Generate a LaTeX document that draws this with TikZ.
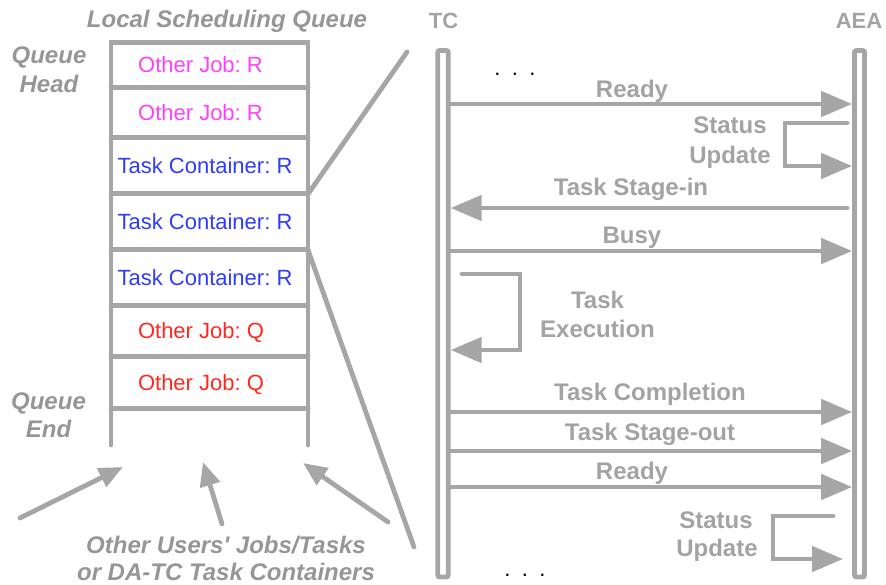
\documentclass[tikz,border=0pt]{standalone}
\usepackage{fontspec}
\setmainfont{Liberation Sans}
\usetikzlibrary{arrows.meta}
\definecolor{lg}{RGB}{166,166,166}
\definecolor{lt}{RGB}{163,163,163}
\definecolor{lq}{RGB}{150,150,150}
\definecolor{mag}{RGB}{255,64,255}
\definecolor{blu}{RGB}{45,60,255}
\definecolor{rd}{RGB}{255,40,30}
\frenchspacing
\begin{document}
\begin{tikzpicture}[x=1pt,y=-1pt,
 wall/.style={draw=lg, line width=4.8pt, line cap=round},
 msg/.style={draw=lg, line width=4.8pt, line cap=round, -{Triangle[length=31pt,width=25pt]}},
 small/.style={draw=lg, line width=4.8pt, line cap=round, -{Triangle[length=24pt,width=20pt]}},
 msgl/.style={font=\fontsize{24}{28}\selectfont\bfseries, text=lt, anchor=base, inner sep=0pt},
 side/.style={font=\fontsize{24}{28}\selectfont\bfseries\itshape, text=lq, anchor=base, inner sep=0pt},
 cell/.style={font=\fontsize{22}{26}\selectfont, text height=15.8pt, text depth=0pt, inner sep=0pt},
 life/.style={draw=lg, line width=4.8pt, rounded corners=2pt, minimum width=10.5pt, inner sep=0pt},
 dots/.style={font=\fontsize{22}{26}\selectfont, text=black, anchor=base, inner sep=0pt},
]
\useasboundingbox (0,0) rectangle (886,584);

% ---------- queue ----------
\draw[wall] (111,445) -- (111,42.5) -- (308,42.5) -- (308,445);
\foreach \yy in {87.5,137.5,193.5,249.5,305.5,356.5,408.5}
  \draw[wall] (111,\yy) -- (308,\yy);

\node[cell, text=mag] (c1) at (200.5,65) {Other Job: R};
\node[cell, text=mag] (c2) at (200.5,112.5) {Other Job: R};
\node[cell, text=blu] (c3) at (205,165.5) {Task Container: R};
\node[cell, text=blu] (c4) at (205,221.5) {Task Container: R};
\node[cell, text=blu] (c5) at (205,277.5) {Task Container: R};
\node[cell, text=rd] (c6) at (201,331) {Other Job: Q};
\node[cell, text=rd] (c7) at (201,382.5) {Other Job: Q};

\node[side] (lsq) at (227,27) {Local Scheduling Queue};
\node[side] (qh1) at (49,63) {Queue};
\node[side] (qh2) at (49,92) {Head};
\node[side] (qe1) at (48.5,409) {Queue};
\node[side] (qe2) at (48.5,437) {End};
\node[side] (ou1) at (226,553) {Other Users\textquotesingle{} Jobs/Tasks};
\node[side] (ou2) at (226,580) {or DA-TC Task Containers};

% zoom lines
\coordinate (zA) at (308,194);
\coordinate (zB) at (407,52);
\coordinate (zC) at (308,250);
\coordinate (zD) at (414,547);
\draw[wall] (zA) -- (zB);
\draw[wall] (zC) -- (zD);

% incoming arrows
\coordinate (a1s) at (20,518);  \coordinate (a1e) at (123,467);
\coordinate (a2s) at (222,524); \coordinate (a2e) at (203,462);
\coordinate (a3s) at (388,522); \coordinate (a3e) at (303,463);
\draw[small] (a1s) -- (a1e);
\draw[small] (a2s) -- (a2e);
\draw[small] (a3s) -- (a3e);

% ---------- sequence part ----------
\node[life, minimum height=526.5pt] (tc) at (443,313.75) {};
\node[life, minimum width=10pt, minimum height=526.5pt] (aea) at (859.5,313.75) {};
\node[msgl, font=\fontsize{22}{26}\selectfont\bfseries] (tcl) at (443.5,28) {TC};
\node[msgl, font=\fontsize{22}{26}\selectfont\bfseries] (aeal) at (859,28) {AEA};

\node[dots] (d1) at (515,75.5) {.\hspace{11.4pt}.\hspace{11.4pt}.};
\node[dots] (d2) at (525,576.5) {.\hspace{11.4pt}.\hspace{11.4pt}.};

% Ready
\draw[msg] (tc.east |- 0,104) -- (aea.west |- 0,104);
\node[msgl] (l1) at (632,97) {Ready};
% Status update loop 1
\coordinate (s1) at (847,123);
\draw[msg] (s1) -- (785,123) -- (785,166) -- (aea.west |- 0,166);
\node[msgl] (l2a) at (730,133) {Status};
\node[msgl] (l2b) at (730,163) {Update};
% Task Stage-in
\coordinate (si) at (847,208);
\draw[msg] (si) -- (tc.east |- 0,208);
\node[msgl] (l3) at (631,195) {Task Stage-in};
% Busy
\draw[msg] (tc.east |- 0,251) -- (aea.west |- 0,251);
\node[msgl] (l4) at (632,243) {Busy};
% Task execution loop
\coordinate (te) at (462,274);
\draw[msg] (te) -- (520,274) -- (520,350) -- (tc.east |- 0,350);
\node[msgl] (l5a) at (597.5,308) {Task};
\node[msgl] (l5b) at (597.5,337) {Execution};
% Task Completion
\draw[msg] (tc.east |- 0,412) -- (aea.west |- 0,412);
\node[msgl] (l6) at (650,400) {Task Completion};
% Task Stage-out
\draw[msg] (tc.east |- 0,451) -- (aea.west |- 0,451);
\node[msgl] (l7) at (650,440) {Task Stage-out};
% Ready 2
\draw[msg] (tc.east |- 0,487) -- (aea.west |- 0,487);
\node[msgl] (l8) at (632,479) {Ready};
% Status update loop 2
\coordinate (s2) at (833,516);
\coordinate (s2e) at (843,559);
\draw[msg] (s2) -- (773,516) -- (773,559) -- (s2e);
\node[msgl] (l9a) at (716,528) {Status};
\node[msgl] (l9b) at (717,556) {Update};
\end{tikzpicture}
\end{document}
